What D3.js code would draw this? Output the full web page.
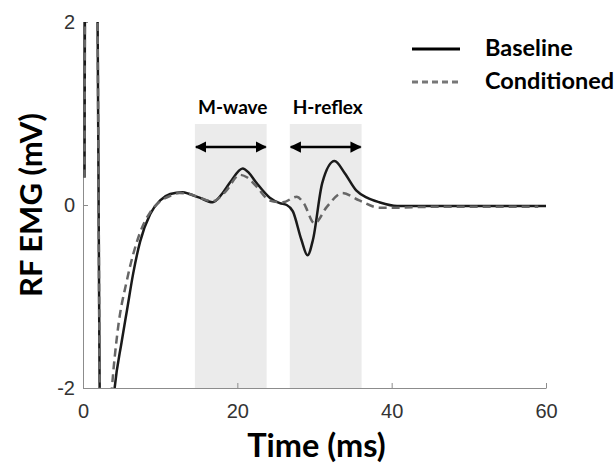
<!DOCTYPE html>
<html>
<head>
<meta charset="utf-8">
<script src="https://cdn.jsdelivr.net/npm/d3@7"></script>
<style>
  body { margin: 0; background: #fff; }
</style>
</head>
<body>
<div id="chart"></div>
<script>
// Baseline EMG trace [time ms, mV]
const baseline = [
  [0.2, 0.3], [0.3, 3], [1.75, 3], [2.3, -3], [3.2, -3], [4.1, -2.0], [5.0, -1.5],
  [5.7, -1.15], [6.5, -0.75], [7.4, -0.4], [8.7, -0.1], [10, 0.05], [11.3, 0.12],
  [12.9, 0.14], [13.8, 0.12], [15.1, 0.08], [16.8, 0.03], [18, 0.12], [19, 0.24],
  [20.7, 0.40], [21.5, 0.35], [22.5, 0.24], [24.2, 0.08], [25.5, 0.02], [26.4, 0.0],
  [27.2, -0.07], [28.3, -0.38], [29.1, -0.55], [29.8, -0.38], [31.0, 0.24], [32.6, 0.48],
  [33.9, 0.35], [35.4, 0.16], [36.8, 0.08], [38.4, 0.03], [40.7, -0.01], [45, -0.01],
  [50, -0.01], [55, -0.01], [60, -0.01]
];

// Conditioned EMG trace [time ms, mV]
const conditioned = [
  [0.2, 0.3], [0.3, 3], [1.75, 3], [2.3, -3], [3.0, -3], [3.75, -2.0], [4.5, -1.37],
  [5.7, -0.82], [7.4, -0.3], [8.7, -0.08], [10, 0.04], [11.3, 0.1], [12.5, 0.13],
  [13.8, 0.12], [15.1, 0.08], [16.8, 0.04], [18.5, 0.15], [20.3, 0.33], [21.3, 0.3],
  [22.5, 0.2], [24.2, 0.05], [25.9, 0.03], [27.7, 0.09], [28.6, 0.02], [30.0, -0.2],
  [31.6, -0.02], [33.6, 0.13], [35.8, 0.05], [38.4, -0.03], [40.6, -0.03], [45, -0.02],
  [50, -0.02], [55, -0.02], [59, -0.02]
];

// Shaded windows [label, start ms, end ms]
const windows = [["M-wave", 14.5, 23.8], ["H-reflex", 26.8, 36.1]];

const xTicks = [0, 20, 40, 60];
const yTicks = [-2, 0, 2];

const legendItems = [
  { name: "Baseline", dash: null, color: "#000" },
  { name: "Conditioned", dash: "6,4", color: "#777" }
];

const width = 614, height = 464;
const margin = { top: 22, right: 68, bottom: 76, left: 83 };

const svg = d3.select("#chart").append("svg")
  .attr("width", width)
  .attr("height", height);

const x = d3.scaleLinear().domain([0, 60]).range([margin.left, width - margin.right]);
const y = d3.scaleLinear().domain([-2, 2]).range([height - margin.bottom, margin.top]);

// arrow marker
const defs = svg.append("defs");
defs.append("marker")
  .attr("id", "arrow")
  .attr("viewBox", "0 0 10 10")
  .attr("refX", 9).attr("refY", 5)
  .attr("markerWidth", 4.5).attr("markerHeight", 4.5)
  .attr("markerUnits", "strokeWidth")
  .attr("orient", "auto-start-reverse")
  .append("path")
  .attr("d", "M0,0 L10,5 L0,10 z")
  .attr("fill", "#000");

defs.append("clipPath").attr("id", "plot")
  .append("rect")
  .attr("x", margin.left).attr("y", margin.top)
  .attr("width", x(60) - x(0) + 2).attr("height", y(-2) - y(2));

// Shaded windows
svg.selectAll("rect.win")
  .data(windows)
  .join("rect")
  .attr("class", "win")
  .attr("x", d => x(d[1]))
  .attr("y", 124)
  .attr("width", d => x(d[2]) - x(d[1]))
  .attr("height", y(-2) - 124)
  .attr("fill", "#ebebeb");

svg.selectAll("line.arr")
  .data(windows)
  .join("line")
  .attr("class", "arr")
  .attr("x1", d => x(d[1]) + 1)
  .attr("x2", d => x(d[2]) - 1)
  .attr("y1", 147).attr("y2", 147)
  .attr("stroke", "#000")
  .attr("stroke-width", 2.5)
  .attr("marker-start", "url(#arrow)")
  .attr("marker-end", "url(#arrow)");

svg.selectAll("text.win")
  .data(windows)
  .join("text")
  .attr("class", "win")
  .attr("x", d => (x(d[1]) + x(d[2])) / 2 + 2)
  .attr("y", 114)
  .attr("text-anchor", "middle")
  .style("font-family", "Lato, sans-serif")
  .style("font-weight", "bold")
  .style("font-size", "19px")
  .text(d => d[0]);

// Axes
const xAxis = svg.append("g")
  .attr("transform", `translate(0,${y(-2)})`)
  .call(d3.axisBottom(x).tickValues(xTicks).tickSize(-5).tickSizeOuter(0));
xAxis.selectAll(".tick text").attr("dy", null).attr("y", 30);

const yAxis = svg.append("g")
  .attr("transform", `translate(${x(0)},0)`)
  .call(d3.axisLeft(y).tickValues(yTicks).tickSize(-5).tickSizeOuter(0)
    .tickFormat(d => (d < 0 ? "-" : "") + Math.abs(d)));
yAxis.selectAll(".tick text").attr("x", -8);

svg.selectAll(".domain, .tick line").attr("stroke", "#8c8c8c");
svg.selectAll(".tick text")
  .style("font-family", "'Liberation Sans', Arial, sans-serif")
  .style("font-size", "20px")
  .attr("fill", "#333");

// Traces
const line = d3.line()
  .x(d => x(d[0]))
  .y(d => y(d[1]))
  .curve(d3.curveMonotoneX);

const traces = svg.append("g").attr("clip-path", "url(#plot)");
traces.append("path")
  .datum(baseline)
  .attr("d", line)
  .attr("fill", "none")
  .attr("stroke", "#1a1a1a")
  .attr("stroke-width", 2.5);
traces.append("path")
  .datum(conditioned)
  .attr("d", line)
  .attr("fill", "none")
  .attr("stroke", "#666")
  .attr("stroke-width", 2.5)
  .attr("stroke-dasharray", "8,5");

// Legend
const legend = svg.append("g");
legendItems.forEach((d, i) => {
  const ly = 49 + i * 33;
  legend.append("line")
    .attr("x1", 412).attr("x2", 460)
    .attr("y1", ly).attr("y2", ly)
    .attr("stroke", d.color)
    .attr("stroke-width", 3)
    .attr("stroke-dasharray", d.dash);
  legend.append("text")
    .attr("x", 485).attr("y", ly + 7)
    .style("font-family", "Lato, sans-serif")
    .style("font-weight", "bold")
    .style("font-size", "23.5px")
    .text(d.name);
});

// Axis labels
svg.append("text")
  .attr("x", (x(0) + x(60)) / 2 + 2)
  .attr("y", 457)
  .attr("text-anchor", "middle")
  .style("font-family", "Lato, sans-serif")
  .style("font-weight", "bold")
  .style("font-size", "32.5px")
  .text("Time (ms)");

svg.append("text")
  .attr("transform", `translate(42,${y(0)}) rotate(-90)`)
  .attr("text-anchor", "middle")
  .style("font-family", "Lato, sans-serif")
  .style("font-weight", "bold")
  .style("font-size", "31px")
  .text("RF EMG (mV)");
</script>
</body>
</html>
